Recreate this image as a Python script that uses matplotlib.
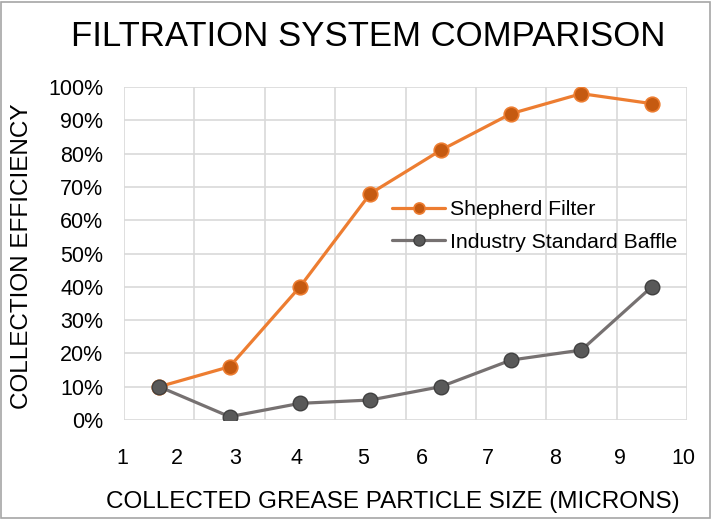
"""Filtration system comparison: collection efficiency by particle size."""

import matplotlib

matplotlib.use("Agg")
import matplotlib.pyplot as plt
import matplotlib.transforms as mtransforms
import numpy as np
from matplotlib.patches import Rectangle

plt.rcParams["font.family"] = ["Liberation Sans", "DejaVu Sans"]

# eight measured categories (points sit at category centres)
categories = np.arange(8)
shepherd = [10, 16, 40, 68, 81, 92, 98, 95]
baffle = [10, 1, 5, 6, 10, 18, 21, 40]

# size labels printed under the axis (not aligned with categories in the original)
size_labels = ["1", "2", "3", "4", "5", "6", "7", "8", "9", "10"]
size_label_pos = [-0.528, 0.253, 1.077, 1.958, 2.896, 3.734, 4.672, 5.624, 6.548, 7.443]

ORANGE = "#ED7D31"
ORANGE_DARK = "#C55A11"
GREY = "#767171"
GREY_DARK = "#595959"
GRID = "#D9D9D9"


def main() -> None:
    fig = plt.figure(figsize=(7.12, 5.19), dpi=100)
    ax = fig.add_axes([124 / 712, 1 - 420 / 519, 563 / 712, 333 / 519])

    ax.plot(categories, shepherd, color=ORANGE, lw=2.3, marker="o", ms=10.5,
            mfc=ORANGE_DARK, mec=ORANGE, mew=1.2, label="Shepherd Filter",
            solid_capstyle="round", zorder=3)
    ax.plot(categories, baffle, color=GREY, lw=2.3, marker="o", ms=10.5,
            mfc=GREY_DARK, mec="#404040", mew=1.0, label="Industry Standard Baffle",
            solid_capstyle="round", zorder=3)

    ax.set_xlim(-0.5, 7.5)
    ax.set_ylim(0, 100)
    ax.set_yticks(np.arange(0, 101, 10))
    ax.set_yticklabels([f"{v}%" for v in range(0, 101, 10)], fontsize=15.5)
    ax.set_xticks(np.arange(-0.5, 7.6, 1))
    ax.set_xticklabels([])
    ax.tick_params(length=0, pad=15)
    ax.grid(True, color=GRID, lw=1.2, zorder=0)
    for s in ax.spines.values():
        s.set_visible(False)

    trans = mtransforms.blended_transform_factory(ax.transData, ax.transAxes)
    for lab, x in zip(size_labels, size_label_pos):
        ax.text(x, -0.115, lab, transform=trans, ha="center", va="center",
                fontsize=15.5, clip_on=False)

    leg = ax.legend(loc="upper left", bbox_to_anchor=(0.476, 0.66), frameon=False,
                    fontsize=15.3, handlelength=2.5, handletextpad=0.25,
                    labelspacing=0.64, borderaxespad=0, borderpad=0)
    for h in leg.legend_handles:
        h.set_markersize(8)

    fig.text(368 / 712, 1 - 37 / 519, "FILTRATION SYSTEM COMPARISON",
             ha="center", va="center", fontsize=25)
    fig.text(393 / 712, 1 - 502 / 519, "COLLECTED GREASE PARTICLE SIZE (MICRONS)",
             ha="center", va="center", fontsize=17.5)
    fig.text(22 / 712, 1 - 256 / 519, "COLLECTION EFFICIENCY", rotation=90,
             ha="center", va="center", fontsize=17.5)

    fig.patches.append(Rectangle((1 / 712, 1 / 519), 709 / 712, 516 / 519,
                                 transform=fig.transFigure, fill=False,
                                 ec="#A6A6A6", lw=1.2))
    fig.savefig("out.png", dpi=100)


if __name__ == "__main__":
    main()
